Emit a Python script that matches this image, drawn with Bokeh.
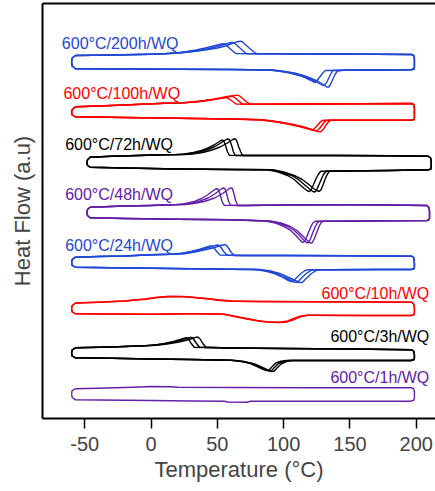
from bokeh.plotting import figure
from bokeh.models import ColumnDataSource, FixedTicker, LinearAxis, Range1d
from bokeh.core.properties import value
from bokeh.embed import file_html
from bokeh.resources import INLINE

# ---------------- data: Temperature (°C) vs Heat Flow (a.u., stacked) ----------------
samples = ["600°C/200h/WQ", "600°C/100h/WQ", "600°C/72h/WQ", "600°C/48h/WQ",
           "600°C/24h/WQ", "600°C/10h/WQ", "600°C/3h/WQ", "600°C/1h/WQ"]
colors = ["#1f48d4", "#ff0000", "#000000", "#6420a8", "#1f48d4", "#ff0000", "#000000", "#6420a8"]

# --- 600°C/200h/WQ ---
h200_heat_T = [-60, -59.5, -57, -20, 20, 60, 145, 170, 196, 198.3, 198.6]
h200_heat_HF = [356, 352.5, 349.7, 349.5, 349.2, 349, 348.2, 348.5, 348.7, 349.5, 351.5]
h200_cool_T = [198.6, 198, 196.5, 170, 130, 90, 10, 0, -30, -57, -59.5, -60]
h200_cool_HF = [360, 363, 364, 364.2, 364.5, 364.7, 364.8, 364.3, 363.5, 363, 360.5, 356]
h200_exo_T = [[80, 77, 74, 71, 69, 67.5, 65, 61, 56, 50, 43, 35, 27, 20],
              [72, 69.5, 67, 64.5, 62.5, 61, 59, 55, 50, 44, 37, 29, 22],
              [64, 61.5, 59, 57, 55.5, 54, 51.5, 47, 41, 34, 27, 20, 14]]
h200_exo_HF = [[364.7, 367, 370.5, 374, 376.5, 377.3, 376.8, 375, 372.5, 370.5, 369, 367.5, 366.3, 365.3],
               [364.8, 367.5, 370.5, 373.5, 375.5, 376, 375.7, 374, 372, 370, 368.3, 366.8, 365.7],
               [364.9, 367.5, 370.5, 373, 374.5, 374.8, 374, 372.5, 370.5, 368.5, 367, 365.8, 365.2]]
h200_endo_T = [[92, 100, 108, 115, 121, 126, 130, 132.5, 134, 135.5, 137, 138.5, 140.5],
               [90, 98, 106, 113, 119, 124, 127.5, 129.5, 131, 132.5, 134, 135.5, 137],
               [88, 96, 104, 111, 116, 120, 122.5, 124, 125.5, 127.5, 129.5, 131.5]]
h200_endo_HF = [[348.5, 347.3, 345.5, 343, 340, 337, 334, 331.5, 331.5, 334.5, 339, 343.5, 347.5],
                [348.5, 347.3, 345.5, 343, 340, 337, 334.5, 333, 333.3, 336.5, 340.5, 344.5, 348],
                [348.5, 347.5, 345.7, 343.3, 341, 338.5, 336.5, 336.3, 338.5, 342, 345.5, 348]]

# --- 600°C/100h/WQ ---
h100_heat_T = [-60, -59.5, -57, -20, 20, 60, 140, 170, 196, 198.3, 198.6]
h100_heat_HF = [306.5, 303.5, 301.7, 301, 300.3, 299.5, 298.2, 298.3, 298.3, 299, 301]
h100_cool_T = [198.6, 198, 196.5, 160, 120, 85, 10, -20, -40, -57, -59.5, -60]
h100_cool_HF = [311, 314, 315, 314.7, 314.5, 314.3, 315.3, 313.5, 312.5, 311.7, 309, 306.5]
h100_exo_T = [[75, 72, 69.5, 67, 65, 62.5, 58, 52, 45, 37, 28, 21],
              [69, 66.5, 64, 61.5, 60, 57.5, 53, 47, 40, 32, 24],
              [64, 61.5, 59, 57, 55.5, 53, 49, 43, 36, 29, 22]]
h100_exo_HF = [[314.3, 316.5, 319.5, 322.3, 323.3, 323, 321.5, 320, 318.5, 317, 316, 315.5],
               [314.4, 317, 320, 322.2, 322.5, 322, 320.7, 319.3, 318, 316.8, 315.8],
               [314.5, 317, 319.5, 320.8, 321, 320.5, 319.5, 318.2, 317, 316.2, 315.6]]
h100_endo_T = [[84, 92, 100, 108, 115, 121, 126, 128, 130, 132, 134, 136],
               [82, 90, 98, 106, 113, 118.5, 123, 125, 127, 129, 131, 133],
               [80, 88, 96, 104, 111, 116, 120, 122, 124, 126, 128, 130]]
h100_endo_HF = [[298.8, 297.5, 295.8, 293.8, 291.5, 289, 287, 286.8, 289.5, 293.5, 297, 298.3],
                [298.8, 297.5, 296, 294, 292, 290, 288, 287.8, 290, 293.5, 297, 298.3],
                [298.8, 297.6, 296.2, 294.3, 292.3, 290.5, 289, 288.8, 291, 294, 297, 298.3]]

# --- 600°C/72h/WQ ---
h72_heat_T = [-48.4, -48, -46, -20, 20, 60, 145, 180, 209, 211, 211.3]
h72_heat_HF = [256, 253.3, 251.3, 250.5, 249.5, 249, 247.5, 248, 248.7, 249.5, 251.5]
h72_cool_T = [211.3, 210.8, 209, 180, 140, 100, 75, 10, -10, -30, -46, -48, -48.4]
h72_cool_HF = [257, 260.5, 262.3, 262.7, 263, 263, 263, 263.7, 263, 262.3, 261.3, 258.5, 256]
h72_exo_T = [[69, 67.5, 66, 65, 64, 62.5, 60.5, 57, 52, 46, 39, 31, 25],
             [63.5, 62, 61, 60, 59, 57.5, 55.5, 52, 47.5, 42, 35, 28, 22],
             [59, 57.5, 56.5, 55.5, 54.5, 53, 51, 47.5, 43, 38, 32, 25, 19]]
h72_exo_HF = [[263, 267, 272, 276, 279.3, 279.7, 278, 275, 271.5, 268.5, 266, 264.5, 264],
              [263, 267, 272, 276, 279, 279.5, 278, 275, 271.5, 268.5, 266, 264.5, 264],
              [263.2, 267, 271.5, 275.5, 278, 278.3, 276.5, 273.5, 270.5, 268, 266, 264.5, 264]]
h72_endo_T = [[92, 100, 108, 114, 119, 122.5, 125.5, 127, 128.3, 129.8, 131.3, 132.8, 134.5],
              [90, 98, 106, 111, 115.5, 119, 122, 123.5, 124.8, 126.5, 128.3, 130, 132],
              [88, 96, 103, 108, 112, 115.5, 118, 119.5, 120.8, 122.5, 124.3, 126, 128]]
h72_endo_HF = [[248.7, 246.5, 243, 239, 234, 230, 227.5, 227.3, 229, 234, 239.5, 244, 247.3],
               [248.7, 246.5, 243, 239, 234, 230, 227, 226.5, 228.5, 233.5, 239, 244, 247.3],
               [248.7, 246.5, 243, 239, 234, 230, 227.5, 227, 229, 234, 239.5, 244, 247.3]]

# --- 600°C/48h/WQ ---
h48_heat_T = [-48.4, -48, -46, -20, 20, 60, 140, 180, 208, 209.7, 210]
h48_heat_HF = [206, 203, 200.7, 200, 199.3, 198.7, 197.3, 197.7, 198, 198.8, 200.5]
h48_cool_T = [210, 209.5, 208, 180, 150, 100, 70, 15, 0, -20, -46, -48, -48.4]
h48_cool_HF = [207, 211, 213, 213.5, 213.7, 213.5, 213, 213.7, 213, 212.5, 211.3, 209, 206]
h48_exo_T = [[65.5, 64, 63, 62, 61.3, 60, 58, 54, 48, 40, 32, 26],
             [60, 58.5, 57.5, 56.5, 55.5, 54, 52, 48, 43, 36, 29, 23],
             [55, 53.5, 52.5, 51.5, 50.5, 49, 47, 43, 38, 32, 25, 19]]
h48_exo_HF = [[213, 217, 222, 227, 230, 230.7, 229, 225, 220.5, 217, 215, 214],
              [213.2, 217, 222, 227, 230.3, 230.5, 228.5, 224.5, 220.5, 217, 215, 214],
              [213.3, 217, 222, 226.5, 229.5, 229.7, 228, 224, 220, 216.7, 214.8, 214]]
h48_endo_T = [[90, 98, 105, 110, 114, 117.5, 120, 121.5, 123, 124.8, 126.5, 128, 130],
              [88, 96, 103, 108, 112, 115, 117.5, 118.8, 120.3, 122, 123.7, 125.3, 127],
              [86, 94, 100, 105, 108.5, 111.5, 114, 115.3, 117, 118.8, 120.5, 122, 124]]
h48_endo_HF = [[197.5, 195.5, 192, 188, 183, 178.5, 175.5, 175.7, 179.5, 185.5, 191.5, 195.5, 197.3],
               [197.5, 195.5, 192, 188, 183, 178.5, 175.7, 176, 180, 186, 191.5, 195.5, 197.3],
               [197.5, 195.5, 192.2, 188.3, 184, 179.5, 176.3, 176.5, 180.5, 186.3, 191.8, 195.5, 197.3]]

# --- 600°C/24h/WQ ---
h24_heat_T = [-60, -59.5, -57, -30, 0, 30, 60, 135, 170, 196, 198.3, 198.6]
h24_heat_HF = [156, 153, 151.3, 150.8, 150.3, 149.7, 149.3, 148.7, 149, 149, 149.8, 151.5]
h24_cool_T = [198.6, 198, 196.5, 150, 100, 70, 15, 0, -20, -40, -57, -59.5, -60]
h24_cool_HF = [156, 161, 162.3, 162.7, 163, 163, 164.3, 163.7, 162.5, 162, 161.3, 159, 156]
h24_exo_T = [[63, 60.5, 58.5, 57, 55.5, 53, 48, 40, 33, 25],
             [57.5, 55, 53, 51.5, 50, 47, 42, 35, 28, 22],
             [52, 49.5, 47.5, 46, 44.5, 41, 36, 30, 23, 17]]
h24_exo_HF = [[163, 166, 170, 173, 173.8, 173.3, 171, 168.5, 166.5, 164.7],
              [163.2, 166.5, 170.5, 173, 173.5, 172.5, 170.5, 168, 166, 164.8],
              [163.5, 167, 170.5, 172.3, 172.5, 171, 169, 167, 165.3, 164.5]]
h24_endo_T = [[82, 90, 97, 103, 108, 112, 114, 117, 121, 125, 128],
              [80, 88, 95, 100, 105, 108.5, 110.5, 113, 117, 121, 124],
              [78, 86, 93, 98, 102, 105.5, 107, 109.5, 113, 116.5, 119]]
h24_endo_HF = [[149, 147.5, 145, 141.5, 138.5, 136, 136, 140, 145, 148.3, 148.7],
               [149, 147.5, 145, 141.5, 138.5, 136.2, 136.3, 140, 145, 148.3, 148.7],
               [149, 147.5, 145, 142, 139, 136.8, 137, 140.5, 145, 148.3, 148.7]]

# --- 600°C/10h/WQ ---
h10_heat_T = [-60, -59.5, -57, -30, 0, 30, 50, 120, 160, 196, 198.3, 198.6]
h10_heat_HF = [110, 106.5, 104.7, 104.5, 104.3, 104.7, 104.5, 103.3, 103, 103, 104, 105.5]
h10_cool_T = [198.6, 198, 196.5, 170, 120, 80, 65, -20, -40, -57, -59.5, -60]
h10_cool_HF = [110.5, 114.5, 116.3, 116.5, 116.7, 117, 117.2, 117.5, 116.3, 115.5, 113, 110]
h10_exo_T = [[62, 55, 48, 40, 30, 24, 14, 5, -5],
             [61, 55, 50, 45, 35, 24, 14, 5, -4]]
h10_exo_HF = [[117.3, 118.3, 119, 120, 121.5, 122, 122.2, 121.3, 119.5],
              [117.3, 117.7, 118.3, 119.5, 120.8, 121.6, 121.8, 121, 119.3]]
h10_endo_T = [[55, 62, 70, 80, 88, 95, 102, 107, 112, 118],
              [55, 63, 72, 82, 90, 97, 103, 108, 113, 118]]
h10_endo_HF = [[104.3, 102.5, 100.5, 98, 96.5, 96, 96.3, 98.5, 101.5, 103.3],
               [104.3, 102, 99.5, 97.3, 96.2, 96.3, 97.5, 100.3, 102.5, 103.3]]

# --- 600°C/3h/WQ ---
h3_heat_T = [-60, -59.5, -57, -30, 0, 30, 50, 108, 150, 196, 198.3, 198.6]
h3_heat_HF = [65.5, 62.5, 60.7, 60.3, 59.5, 59, 58.5, 58, 58, 58, 59, 60.5]
h3_cool_T = [198.6, 198, 196.5, 150, 100, 60, 45, -5, -30, -57, -59.5, -60]
h3_cool_HF = [64, 67.5, 68.7, 69.5, 70, 70.5, 71, 72.8, 71.5, 70.7, 68.5, 65.5]
h3_exo_T = [[41.5, 39, 37, 35.5, 34, 31, 26, 20, 12, 4],
            [36.5, 34, 32, 31, 29.5, 26, 21, 15, 8, 1],
            [32.5, 30, 28.3, 27, 25.5, 22, 17, 11, 5, -2]]
h3_exo_HF = [[71, 75, 79.5, 81.2, 81.3, 80, 78, 76.3, 74.5, 73.2],
             [71.2, 75.5, 79.5, 81, 81, 79.5, 77.5, 76, 74.3, 73.2],
             [71.3, 75.5, 79.3, 80.7, 80.6, 79, 77, 75.3, 74, 73]]
h3_endo_T = [[62, 70, 78, 84, 88, 91, 93, 95, 98, 102, 106],
             [60, 68, 76, 82, 86, 89, 91, 93, 96, 100, 104],
             [58, 66, 74, 80, 84, 87, 89, 91, 94, 98, 102]]
h3_endo_HF = [[58.3, 57, 54.5, 51, 48.5, 47, 47.5, 50.5, 54.5, 57, 58],
              [58.3, 57.2, 55, 51.5, 49, 47.5, 48, 51, 55, 57.2, 58],
              [58.4, 57.4, 55.5, 52, 49.5, 48, 48.5, 51.5, 55.5, 57.3, 58]]

# --- 600°C/1h/WQ ---
h1_heat_T = [-60, -59.5, -57, -40, -20, 0, 30, 55, 58, 72, 75, 120, 170, 196, 198.3, 198.6]
h1_heat_HF = [24.5, 21, 18.7, 18.5, 18.3, 18, 17.5, 17.3, 16.5, 16.3, 17.2, 17.3, 17.3, 17.3, 18.5, 21]
h1_cool_T = [198.6, 198, 196.5, 170, 120, 60, 20, 15, 0, -8, -20, -40, -57, -59.5, -60]
h1_cool_HF = [27, 29.7, 30.7, 30.7, 30.8, 31, 31.2, 31.8, 32, 31.5, 31, 30.3, 29.7, 28, 24.5]
h1_exo_T, h1_exo_HF, h1_endo_T, h1_endo_HF = [[]], [[]], [[]], [[]]

# curve labels
lab_left_text = ["600°C/200h/WQ", "600°C/100h/WQ", "600°C/72h/WQ", "600°C/48h/WQ", "600°C/24h/WQ"]
lab_left_T = [-67.3, -66.1, -64.8, -64.8, -64.8]
lab_left_HF = [375, 325, 274, 224, 173]
lab_left_color = ["#1f48d4", "#ff0000", "#000000", "#6420a8", "#1f48d4"]
lab_right_text = ["600°C/10h/WQ", "600°C/3h/WQ", "600°C/1h/WQ"]
lab_right_T = [209.8, 209.8, 209.8]
lab_right_HF = [125, 82, 41]
lab_right_color = ["#ff0000", "#000000", "#6420a8"]

x_ticks = [-50, 0, 50, 100, 150, 200]
x_tick_labels = ["-50", "0", "50", "100", "150", "200"]

# ---------------- assemble closed DSC loops ----------------
def splice(bT, bY, pT, pY, ascending):
    if not pT:
        return list(bT), list(bY)
    lo, hi = min(pT), max(pT)
    ot, oy, done = [], [], False
    for t, y in zip(bT, bY):
        if lo <= t <= hi:
            continue
        past = (t > hi) if ascending else (t < lo)
        if past and not done:
            ot += list(pT)
            oy += list(pY)
            done = True
        ot.append(t)
        oy.append(y)
    return ot, oy

sets = [
    (h200_heat_T, h200_heat_HF, h200_cool_T, h200_cool_HF, h200_exo_T, h200_exo_HF, h200_endo_T, h200_endo_HF),
    (h100_heat_T, h100_heat_HF, h100_cool_T, h100_cool_HF, h100_exo_T, h100_exo_HF, h100_endo_T, h100_endo_HF),
    (h72_heat_T, h72_heat_HF, h72_cool_T, h72_cool_HF, h72_exo_T, h72_exo_HF, h72_endo_T, h72_endo_HF),
    (h48_heat_T, h48_heat_HF, h48_cool_T, h48_cool_HF, h48_exo_T, h48_exo_HF, h48_endo_T, h48_endo_HF),
    (h24_heat_T, h24_heat_HF, h24_cool_T, h24_cool_HF, h24_exo_T, h24_exo_HF, h24_endo_T, h24_endo_HF),
    (h10_heat_T, h10_heat_HF, h10_cool_T, h10_cool_HF, h10_exo_T, h10_exo_HF, h10_endo_T, h10_endo_HF),
    (h3_heat_T, h3_heat_HF, h3_cool_T, h3_cool_HF, h3_exo_T, h3_exo_HF, h3_endo_T, h3_endo_HF),
    (h1_heat_T, h1_heat_HF, h1_cool_T, h1_cool_HF, h1_exo_T, h1_exo_HF, h1_endo_T, h1_endo_HF),
]

xs, ys, cs = [], [], []
for (hT, hY, cT, cY, eT, eY, nT, nY), col in zip(sets, colors):
    for k in range(len(eT)):
        a_t, a_y = splice(hT, hY, nT[k], nY[k], True)
        b_t, b_y = splice(cT, cY, eT[k], eY[k], False)
        xs.append(a_t + b_t + [a_t[0]])
        ys.append(a_y + b_y + [a_y[0]])
        cs.append(col)

# ---------------- figure ----------------
FONT = "Liberation Sans"
p = figure(width=435, height=491, x_range=Range1d(-81.9, 214.5), y_range=Range1d(0, 415),
           output_backend="svg", toolbar_location=None,
           min_border_left=42, min_border_right=0, min_border_top=3, min_border_bottom=73)
p.background_fill_color = "white"
p.border_fill_color = "white"
p.grid.visible = False
p.outline_line_color = None

p.multi_line(xs="xs", ys="ys", line_color="cs", line_width=1.4, line_join="round",
             source=ColumnDataSource(dict(xs=xs, ys=ys, cs=cs)))

p.text(x="x", y="y", text="t", text_color="c", source=ColumnDataSource(
    dict(x=lab_left_T, y=lab_left_HF, t=lab_left_text, c=lab_left_color)),
    text_font=value(FONT), text_font_size=value("16px"), text_align="left",
    text_baseline="alphabetic")
p.text(x="x", y="y", text="t", text_color="c", source=ColumnDataSource(
    dict(x=lab_right_T, y=lab_right_HF, t=lab_right_text, c=lab_right_color)),
    text_font=value(FONT), text_font_size=value("16px"), text_align="right",
    text_baseline="alphabetic")

xa = p.xaxis[0]
xa.ticker = FixedTicker(ticks=x_ticks)
xa.major_label_overrides = {t: s for t, s in zip(x_ticks, x_tick_labels)}
xa.major_tick_out = 10
xa.major_tick_in = 0
xa.major_tick_line_width = 1.5
xa.minor_tick_line_color = None
xa.axis_line_width = 2
xa.major_label_text_font = FONT
xa.major_label_text_font_size = "20px"
xa.major_label_standoff = 8
xa.axis_label = "Temperature (°C)"
xa.axis_label_text_font = FONT
xa.axis_label_text_font_size = "22px"
xa.axis_label_text_font_style = "normal"
xa.axis_label_standoff = 3

ya = p.yaxis[0]
ya.ticker = FixedTicker(ticks=[])
ya.major_label_text_font_size = "0px"
ya.major_tick_line_color = None
ya.minor_tick_line_color = None
ya.axis_line_width = 2
ya.axis_label = "Heat Flow (a.u)"
ya.axis_label_text_font = FONT
ya.axis_label_text_font_size = "22px"
ya.axis_label_text_font_style = "normal"
ya.axis_label_standoff = 8

top = LinearAxis(ticker=FixedTicker(ticks=[]), major_label_text_font_size="0px",
                 major_tick_line_color=None, minor_tick_line_color=None,
                 major_tick_out=0, major_tick_in=0, minor_tick_out=0, minor_tick_in=0,
                 axis_line_width=2, major_label_standoff=0)
p.add_layout(top, "above")

open("out.html", "w").write(file_html(p, INLINE))
